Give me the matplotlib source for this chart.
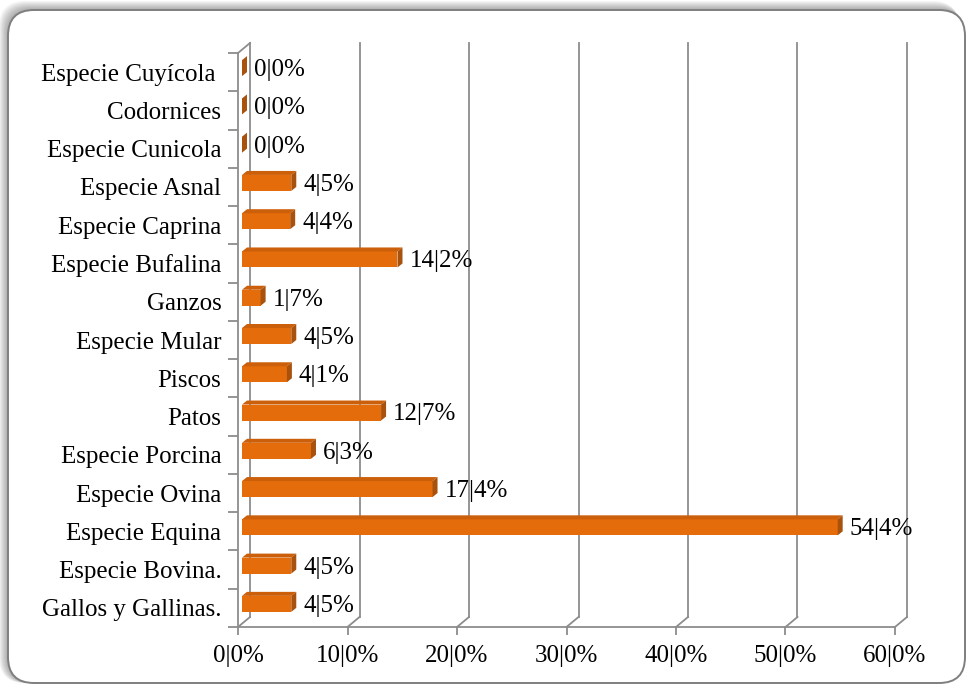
import matplotlib
matplotlib.use("Agg")
import matplotlib.pyplot as plt
from matplotlib.patches import Polygon, FancyBboxPatch
from matplotlib.transforms import IdentityTransform

categories = ["Gallos y Gallinas.", "Especie Bovina.", "Especie Equina", "Especie Ovina",
              "Especie Porcina", "Patos", "Piscos", "Especie Mular", "Ganzos",
              "Especie Bufalina", "Especie Caprina", "Especie Asnal", "Especie Cunicola",
              "Codornices", "Especie Cuyícola "]
values = [4.5, 4.5, 54.4, 17.4, 6.3, 12.7, 4.1, 4.5, 1.7, 14.2, 4.4, 4.5, 0.0, 0.0, 0.0]
xticks = [0, 10, 20, 30, 40, 50, 60]
xtick_labels = ["0|0%", "10|0%", "20|0%", "30|0%", "40|0%", "50|0%", "60|0%"]

plt.rcParams['font.family'] = ['Liberation Serif', 'DejaVu Serif']
FS = 18

W, Hpx = 969, 685
fig = plt.figure(figsize=(W / 100, Hpx / 100), dpi=100)
fig.patch.set_facecolor('white')

# frame with soft shadow
tr = IdentityTransform()
for k in range(9, 0, -1):
    sh = FancyBboxPatch((8 - k, 2), 957 + k * 0.3, 673 + k,
                        boxstyle="round,pad=0,rounding_size=26",
                        transform=tr, facecolor='black', edgecolor='none',
                        alpha=0.04, zorder=-3)
    fig.patches.append(sh)
frame = FancyBboxPatch((8, 2), 957, 673, boxstyle="round,pad=0,rounding_size=26",
                       transform=tr, facecolor='white', edgecolor='#7f7f7f',
                       linewidth=1.4, zorder=-2)
fig.patches.append(frame)

x0p, x1p, ytop, ybot = 238, 895, 53, 627
ax = fig.add_axes([x0p / W, 1 - ybot / Hpx, (x1p - x0p) / W, (ybot - ytop) / Hpx])
ax.set_facecolor('none')
ax.set_xlim(0, 60)
ax.set_ylim(-0.5, len(categories) - 0.5)

PX = (x1p - x0p) / 60.0
PY = (ybot - ytop) / len(categories)
DX, DY = 12 / PX, 10 / PY
grid_c = '#8c8c8c'
lw = 1.3
ylo, yhi = -0.5, len(categories) - 0.5

for t in xticks:
    ax.plot([t + DX, t + DX], [ylo + DY, yhi + DY], color=grid_c, lw=lw, clip_on=False, zorder=1)
    ax.plot([t, t + DX], [ylo, ylo + DY], color=grid_c, lw=lw, clip_on=False, zorder=1)
ax.plot([0, DX], [yhi, yhi + DY], color=grid_c, lw=lw, clip_on=False, zorder=1)

for side in ['top', 'right']:
    ax.spines[side].set_visible(False)
for side in ['left', 'bottom']:
    ax.spines[side].set_color(grid_c)
    ax.spines[side].set_linewidth(lw)

ax.set_xticks(xticks)
ax.set_xticklabels(xtick_labels, fontsize=FS)
ax.tick_params(axis='x', length=6, width=lw, color=grid_c, pad=7)

ypos = list(range(len(categories)))
ax.set_yticks(ypos)
ax.set_yticklabels(categories, fontsize=FS)
ax.tick_params(axis='y', which='major', length=0, pad=12)
ax.set_yticks([i - 0.5 for i in range(len(categories) + 1)], minor=True)
ax.tick_params(axis='y', which='minor', length=7, width=lw, color=grid_c)

# bars
BS = 4 / PX
BDX, BDY = 5 / PX, 4 / PY
BH = 16 / PY
shift = 4 / PY
front_c, top_c, cap_c = '#E46C0A', '#CC5F0A', '#A8520E'
yc = [i + shift for i in ypos]
ax.barh(yc, values, left=BS, height=BH, color=front_c, edgecolor='none', zorder=3)
for y, v in zip(yc, values):
    yb, yt = y - BH / 2, y + BH / 2
    if v > 0:
        ax.add_patch(Polygon([(BS, yt), (BS + v, yt), (BS + v + BDX, yt + BDY), (BS + BDX, yt + BDY)],
                             closed=True, facecolor=top_c, edgecolor='none', zorder=3, clip_on=False))
    ax.add_patch(Polygon([(BS + v, yb), (BS + v + BDX, yb + BDY), (BS + v + BDX, yt + BDY), (BS + v, yt)],
                         closed=True, facecolor=cap_c, edgecolor='none', zorder=3, clip_on=False))
    lab = f"{v:.1f}".replace(".", "|") + "%"
    ax.text(BS + v + BDX + 7 / PX, y - 0.05, lab, fontsize=FS, va='center', ha='left', zorder=4)

fig.savefig("out.png", dpi=100)
